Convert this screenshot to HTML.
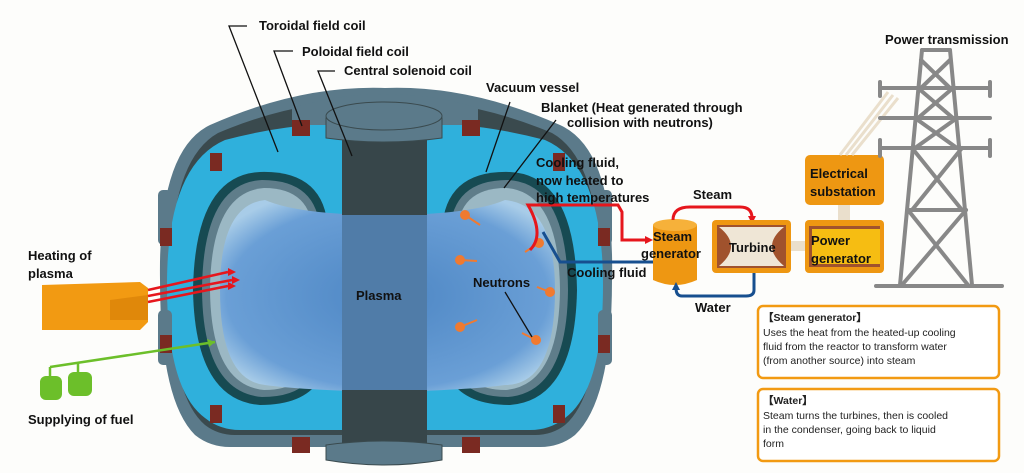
<!DOCTYPE html>
<html><head><meta charset="utf-8"><style>
html,body{margin:0;padding:0;background:#fdfdfb;}
svg{display:block;font-family:"Liberation Sans",sans-serif;}
.b{font-weight:bold;font-size:13px;fill:#111;}
.s{font-size:10.5px;fill:#222;}
</style></head><body>
<svg width="1024" height="473" viewBox="0 0 1024 473" xmlns="http://www.w3.org/2000/svg">
<defs>
<radialGradient id="pl" cx="0.5" cy="0.5" r="0.6">
<stop offset="0" stop-color="#4d86c4"/><stop offset="0.8" stop-color="#6a9fd6"/><stop offset="1" stop-color="#a8cce8"/>
</radialGradient>
</defs>
<rect width="1024" height="473" fill="#fdfdfb"/>
<!-- outer shell -->
<path d="M210 125 Q300 85 385 88 Q470 85 560 125 Q615 150 612 280 Q612 400 575 435 Q560 447 540 447 L230 447 Q210 447 195 435 Q160 400 160 280 Q158 150 210 125Z" fill="#5b7a8a"/>
<path d="M218 133 Q300 98 385 100 Q470 98 552 133 Q600 160 600 280 Q600 395 565 425 Q552 435 535 435 L235 435 Q218 435 205 425 Q170 395 170 280 Q170 160 218 133Z" fill="#3a4a4e"/>
<!-- blue body -->
<path d="M225 140 Q300 120 385 122 Q470 120 545 140 Q603 165 603 285 Q603 390 565 418 Q550 430 530 430 L240 430 Q220 430 205 418 Q167 390 167 285 Q167 165 225 140Z" fill="#2fb0dc"/>
<!-- side coil lugs -->
<g fill="#5b7a8a">
<rect x="158" y="190" width="14" height="55" rx="5"/><rect x="158" y="310" width="14" height="55" rx="5"/>
<rect x="598" y="190" width="14" height="55" rx="5"/><rect x="598" y="310" width="14" height="55" rx="5"/>
<path d="M292 108 Q385 80 478 108 L478 125 L292 125Z"/>
</g>
<g fill="#7a2a22">
<rect x="160" y="228" width="12" height="18"/><rect x="160" y="335" width="12" height="18"/>
<rect x="598" y="228" width="12" height="18"/><rect x="598" y="335" width="12" height="18"/>
<rect x="210" y="153" width="12" height="18"/><rect x="553" y="153" width="12" height="18"/>
<rect x="292" y="120" width="18" height="16"/><rect x="462" y="120" width="18" height="16"/>
<rect x="210" y="405" width="12" height="18"/><rect x="553" y="405" width="12" height="18"/>
<rect x="292" y="437" width="18" height="16"/><rect x="462" y="437" width="18" height="16"/>
</g>
<!-- chambers -->
<g>
<path d="M260 172 Q325 170 328 230 L328 350 Q325 405 260 405 Q195 400 193 290 Q195 175 260 172Z" fill="#174a52"/>
<path d="M262 180 Q318 180 320 232 L320 348 Q318 397 262 397 Q203 392 202 290 Q203 183 262 180Z" fill="#5f7d8a"/>
<path d="M264 188 Q312 188 313 235 L313 345 Q312 390 264 390 Q211 385 210 290 Q211 192 264 188Z" fill="#9bb8c4"/>
<path d="M510 172 Q445 170 442 230 L442 350 Q445 405 510 405 Q575 400 577 290 Q575 175 510 172Z" fill="#174a52"/>
<path d="M508 180 Q452 180 450 232 L450 348 Q452 397 508 397 Q567 392 568 290 Q567 183 508 180Z" fill="#5f7d8a"/>
<path d="M506 188 Q458 188 457 235 L457 345 Q458 390 506 390 Q559 385 560 290 Q559 192 506 188Z" fill="#9bb8c4"/>
</g>
<!-- plasma -->
<path d="M265 200 Q300 215 385 215 Q470 215 505 200 Q555 205 555 290 Q555 385 505 385 Q470 390 385 392 Q300 390 265 385 Q220 380 220 290 Q220 205 265 200Z" fill="url(#pl)"/>
<!-- central solenoid -->
<rect x="342" y="125" width="85" height="330" fill="#37464a"/>
<rect x="342" y="215" width="85" height="175" fill="#5a8fc8" opacity="0.75"/>
<g fill="#5b7a8a" stroke="#3a4a4e" stroke-width="1">
<path d="M326 118 L442 118 L442 138 Q384 146 326 138Z"/>
<ellipse cx="384" cy="116" rx="58" ry="14"/>
<path d="M326 445 Q384 437 442 445 L442 460 Q384 470 326 460Z"/>
</g>
<!-- neutrons -->
<g fill="#f07a30">
<circle cx="465" cy="215" r="5"/><circle cx="539" cy="243" r="5"/><circle cx="460" cy="260" r="5"/>
<circle cx="550" cy="292" r="5"/><circle cx="460" cy="327" r="5"/><circle cx="536" cy="340" r="5"/>
</g>
<g stroke="#f07a30" stroke-width="2" fill="none">
<path d="M465 215 L480 225"/><path d="M539 243 L525 252"/><path d="M460 260 L477 261"/>
<path d="M550 292 L537 287"/><path d="M460 327 L477 320"/><path d="M536 340 L522 333"/>
</g>
<!-- leader lines -->
<g stroke="#111" stroke-width="1.3" fill="none">
<polyline points="247,26 229,26 278,152"/>
<polyline points="293,51 274,51 302,126"/>
<polyline points="335,71 318,71 352,156"/>
<path d="M510 102 L486 172"/>
<path d="M556 120 L504 188"/>
<path d="M505 292 L532 337"/>
</g>
<!-- heating -->
<path d="M42 285 L140 282 L148 288 L148 322 L140 330 L42 330 Z" fill="#f29a12"/>
<path d="M110 300 L148 295 L148 320 L110 320Z" fill="#e0880a"/>
<g stroke="#e6161c" stroke-width="2.5">
<line x1="148" y1="290" x2="228" y2="272"/><line x1="148" y1="296" x2="232" y2="280"/><line x1="148" y1="302" x2="228" y2="286"/>
</g>
<g fill="#e6161c"><path d="M228 268 L236 272 L228 276Z"/><path d="M232 276 L240 280 L232 284Z"/><path d="M228 282 L236 286 L228 290Z"/></g>
<!-- fuel -->
<g stroke="#6cbf2a" stroke-width="2.5" fill="none">
<path d="M50 367 L215 342"/><path d="M50 367 L50 378"/><path d="M78 363 L78 374"/>
</g>
<path d="M215 342 L207 339 L209 347Z" fill="#6cbf2a"/>
<g fill="#6cbf2a"><rect x="40" y="376" width="22" height="24" rx="6"/><rect x="68" y="372" width="24" height="24" rx="6"/></g>
<!-- cooling fluid lines -->
<path d="M530 250 Q545 235 528 205 L600 205 L618 205 L622 212 L622 240 L645 240" stroke="#e6161c" stroke-width="3" fill="none"/>
<path d="M653 240 L645 236 L645 244Z" fill="#e6161c"/>
<path d="M543 232 L560 262 L660 262" stroke="#174f8f" stroke-width="3" fill="none"/>
<!-- steam generator -->
<path d="M653 225 L697 225 L697 280 Q675 290 653 280Z" fill="#ee9712"/>
<ellipse cx="675" cy="225" rx="22" ry="6" fill="#f6b13a"/>
<path d="M673 220 Q673 207 690 207 L740 207 Q752 207 752 218" stroke="#e6161c" stroke-width="3" fill="none"/>
<path d="M748 216 L756 216 L752 224Z" fill="#e6161c"/>
<path d="M754 272 L754 290 Q754 296 746 296 L682 296 Q676 296 676 288" stroke="#174f8f" stroke-width="3" fill="none"/>
<path d="M672 290 L680 290 L676 282Z" fill="#174f8f"/>
<!-- turbine -->
<rect x="712" y="220" width="79" height="53" rx="4" fill="#ee9712"/>
<rect x="717" y="225" width="69" height="43" fill="#a0522d"/>
<path d="M719 227 L784 227 Q760 246 784 266 L719 266 Q743 246 719 227Z" fill="#efe6d6"/>
<rect x="791" y="241" width="14" height="10" fill="#eadfcc"/>
<!-- power gen -->
<rect x="805" y="220" width="79" height="53" rx="4" fill="#ee9712"/>
<rect x="809" y="226" width="71" height="41" fill="#a0522d"/>
<rect x="812" y="229" width="68" height="35" fill="#f6bd12"/>
<rect x="838" y="205" width="12" height="15" fill="#eadfcc"/>
<!-- substation -->
<rect x="805" y="155" width="79" height="50" rx="5" fill="#ee9712"/>
<g stroke="#eadfcc" stroke-width="3"><line x1="840" y1="155" x2="888" y2="92"/><line x1="846" y1="155" x2="893" y2="95"/><line x1="852" y1="155" x2="898" y2="98"/></g>
<!-- tower -->
<g stroke="#888" stroke-width="4" fill="none" stroke-linecap="round">
<line x1="922" y1="50" x2="900" y2="285"/><line x1="950" y1="50" x2="972" y2="285"/>
<line x1="922" y1="50" x2="950" y2="50"/>
<line x1="880" y1="88" x2="990" y2="88"/><line x1="880" y1="118" x2="990" y2="118"/><line x1="880" y1="148" x2="990" y2="148"/>
<line x1="880" y1="82" x2="880" y2="96"/><line x1="990" y1="82" x2="990" y2="96"/>
<line x1="880" y1="140" x2="880" y2="156"/><line x1="990" y1="140" x2="990" y2="156"/>
<line x1="921" y1="60" x2="950" y2="88"/><line x1="950" y1="60" x2="921" y2="88"/>
<line x1="918" y1="88" x2="953" y2="118"/><line x1="953" y1="88" x2="918" y2="118"/>
<line x1="915" y1="118" x2="957" y2="148"/><line x1="957" y1="118" x2="915" y2="148"/>
<line x1="912" y1="148" x2="962" y2="210"/><line x1="962" y1="148" x2="912" y2="210"/>
<line x1="910" y1="210" x2="966" y2="210"/>
<line x1="908" y1="210" x2="968" y2="285"/><line x1="966" y1="210" x2="902" y2="285"/>
<line x1="876" y1="286" x2="1002" y2="286"/>
</g>
<!-- text boxes -->
<rect x="758" y="306" width="241" height="72" rx="5" fill="#fff" stroke="#f29a12" stroke-width="2.5"/>
<rect x="758" y="389" width="241" height="72" rx="5" fill="#fff" stroke="#f29a12" stroke-width="2.5"/>
<g class="s">
<text x="763" y="321" font-weight="bold">【Steam generator】</text>
<text x="763" y="336">Uses the heat from the heated-up cooling</text>
<text x="763" y="350">fluid from the reactor to transform water</text>
<text x="763" y="364">(from another source) into steam</text>
<text x="763" y="404" font-weight="bold">【Water】</text>
<text x="763" y="419">Steam turns the turbines, then is cooled</text>
<text x="763" y="433">in the condenser, going back to liquid</text>
<text x="763" y="447">form</text>
</g>
<!-- labels -->
<g class="b">
<text x="259" y="30">Toroidal field coil</text>
<text x="302" y="56">Poloidal field coil</text>
<text x="344" y="75">Central solenoid coil</text>
<text x="486" y="92">Vacuum vessel</text>
<text x="541" y="112">Blanket  (Heat generated through</text>
<text x="567" y="127">collision with neutrons)</text>
<text x="536" y="167">Cooling fluid,</text>
<text x="536" y="185">now heated to</text>
<text x="536" y="202">high temperatures</text>
<text x="693" y="199">Steam</text>
<text x="653" y="241">Steam</text>
<text x="641" y="258">generator</text>
<text x="567" y="277">Cooling fluid</text>
<text x="729" y="252">Turbine</text>
<text x="811" y="245">Power</text>
<text x="811" y="263">generator</text>
<text x="810" y="178">Electrical</text>
<text x="810" y="196">substation</text>
<text x="885" y="44">Power transmission</text>
<text x="695" y="312">Water</text>
<text x="356" y="300">Plasma</text>
<text x="473" y="287">Neutrons</text>
<text x="28" y="260">Heating of</text>
<text x="28" y="278">plasma</text>
<text x="28" y="424">Supplying of fuel</text>
</g>
</svg>
</body></html>
